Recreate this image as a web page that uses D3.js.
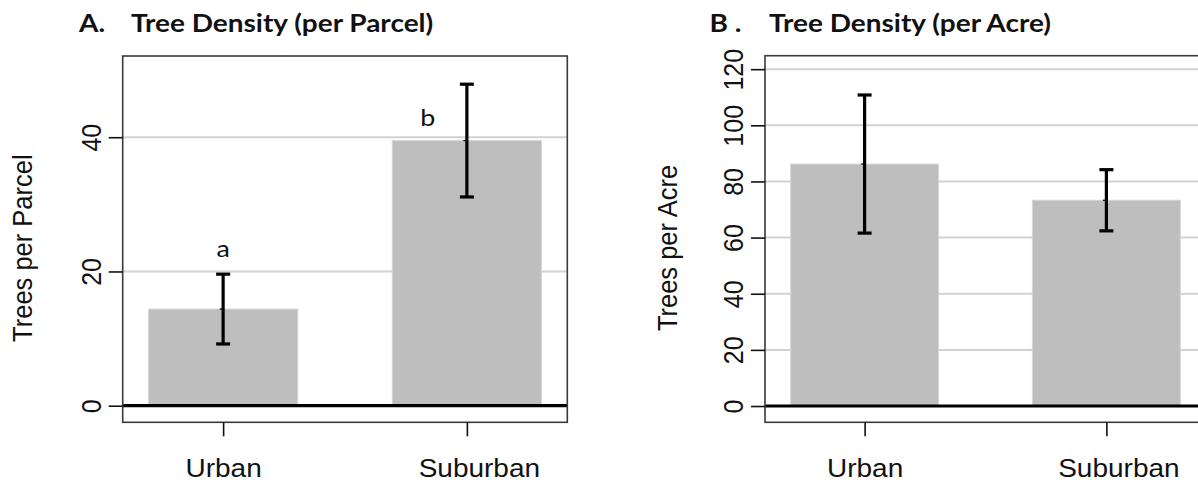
<!DOCTYPE html>
<html>
<head>
<meta charset="utf-8">
<script src="https://cdn.jsdelivr.net/npm/d3@7"></script>
<style>
  html, body { margin: 0; padding: 0; background: #fff; }
  svg { display: block; }
  .axis-text { font-family: "Liberation Sans", Arial, sans-serif; font-size: 25px; fill: #111; }
  .axis-title { font-family: "Liberation Sans", Arial, sans-serif; font-size: 25.5px; fill: #111; }
  .title-text { font-family: Lato, "Open Sans", sans-serif; font-weight: bold; font-size: 25px; fill: #111; }
  .letter-text { font-family: Lato, "Open Sans", sans-serif; font-size: 24px; fill: #111; }
</style>
</head>
<body>
<svg id="chart" width="1198" height="483"></svg>
<script>
// Land-use categories shared by both panels
const categories = ["Urban", "Suburban"];

// Panel A: trees per parcel (mean and error half-width)
const parcelMeans = [14.4, 39.5];
const parcelErrors = [5.2, 8.4];
const parcelTicks = [0, 20, 40];
const parcelLetters = ["a", "b"];

// Panel B: trees per acre (mean and error half-width)
const acreMeans = [86.2, 73.3];
const acreErrors = [24.6, 10.9];
const acreTicks = [0, 20, 40, 60, 80, 100, 120];

// text is set slightly wide horizontally
const WIDE = 1.12;
// horizontal nudge of each category label relative to its tick (px)
const labelNudge = [0, 12];

const svg = d3.select("#chart");

// Layout of each panel
const panels = [
  {
    tag: "A.", title: "Tree Density (per Parcel)", tagX: 79, titleX: 131,
    yLabel: "Trees per Parcel", yLabelX: 32,
    box: { left: 122.7, right: 567.3, top: 56, bottom: 422.3 },
    yDomain: [-2.47, 52.1],
    means: parcelMeans, errors: parcelErrors, ticks: parcelTicks,
    letters: parcelLetters,
    // letter placement: horizontal offset from bar centre (px) and height in data units
    letterLayout: [{ dx: 0, y: 22.2 }, { dx: -39, y: 41.6 }]
  },
  {
    tag: "B .", title: "Tree Density (per Acre)", tagX: 709.6, titleX: 769,
    yLabel: "Trees per Acre", yLabelX: 677,
    box: { left: 765, right: 1206, top: 55.7, bottom: 422.3 },
    yDomain: [-5.8, 124.8],
    means: acreMeans, errors: acreErrors, ticks: acreTicks,
    letters: null, letterLayout: null
  }
];

panels.forEach(p => {
  const g = svg.append("g");
  const b = p.box;

  const x = d3.scalePoint().domain(categories).range([b.left, b.right]).padding(0.412);
  const barW = x.step() * 0.612;
  const y = d3.scaleLinear().domain(p.yDomain).range([b.bottom, b.top]);

  // horizontal grid lines
  g.append("g").selectAll("line")
    .data(p.ticks.filter(t => t !== 0))
    .join("line")
    .attr("x1", b.left).attr("x2", b.right)
    .attr("y1", d => y(d)).attr("y2", d => y(d))
    .attr("stroke", "#d2d2d2").attr("stroke-width", 2);

  // bars
  g.append("g").selectAll("rect")
    .data(categories)
    .join("rect")
    .attr("x", d => x(d) - barW / 2)
    .attr("width", barW)
    .attr("y", (d, i) => y(p.means[i]))
    .attr("height", (d, i) => y(0) - y(p.means[i]))
    .attr("fill", "#bebebe")
    .attr("stroke", "#d6d6d6").attr("stroke-width", 1);

  // zero baseline
  g.append("line")
    .attr("x1", b.left).attr("x2", b.right)
    .attr("y1", y(0)).attr("y2", y(0))
    .attr("stroke", "#000").attr("stroke-width", 3.2);

  // plot frame
  g.append("rect")
    .attr("x", b.left).attr("y", b.top)
    .attr("width", b.right - b.left).attr("height", b.bottom - b.top)
    .attr("fill", "none").attr("stroke", "#3a3a3a").attr("stroke-width", 1.6);

  // error bars
  const eb = g.append("g").attr("stroke", "#000").attr("stroke-width", 3.2);
  categories.forEach((c, i) => {
    const cx = x(c);
    const lo = p.means[i] - p.errors[i], hi = p.means[i] + p.errors[i];
    eb.append("line").attr("x1", cx).attr("x2", cx).attr("y1", y(lo)).attr("y2", y(hi));
    eb.append("line").attr("x1", cx - 7).attr("x2", cx + 7).attr("y1", y(lo)).attr("y2", y(lo));
    eb.append("line").attr("x1", cx - 7).attr("x2", cx + 7).attr("y1", y(hi)).attr("y2", y(hi));
    eb.append("line").attr("x1", cx - 3.5).attr("x2", cx).attr("y1", y(p.means[i])).attr("y2", y(p.means[i]))
      .attr("stroke-width", 1.2);
  });

  // y axis ticks and rotated labels
  const yAxis = d3.axisLeft(y).tickValues(p.ticks).tickSize(14).tickPadding(0).tickFormat(d3.format("d"));
  const ya = g.append("g").attr("transform", `translate(${b.left},0)`).call(yAxis);
  ya.select(".domain").remove();
  ya.selectAll(".tick line").attr("stroke", "#111").attr("stroke-width", 1.6);
  ya.selectAll(".tick text")
    .attr("class", "axis-text")
    .attr("x", null).attr("dy", null)
    .attr("text-anchor", "middle")
    .attr("transform", `translate(-22,0) scale(${WIDE},1) rotate(-90)`)
    .attr("y", 0);

  // x axis ticks and labels
  const xAxis = d3.axisBottom(x).tickSize(14).tickPadding(0);
  const xa = g.append("g").attr("transform", `translate(0,${b.bottom})`).call(xAxis);
  xa.select(".domain").remove();
  xa.selectAll(".tick line").attr("stroke", "#111").attr("stroke-width", 1.6);
  xa.selectAll(".tick text")
    .attr("class", "axis-text")
    .attr("dy", null)
    .attr("y", 54.5)
    .attr("transform", (d, i) => `translate(${labelNudge[i]},0) scale(${WIDE},1)`);

  // axis title
  g.append("text")
    .attr("class", "axis-title")
    .attr("text-anchor", "middle")
    .attr("transform", `translate(${p.yLabelX},${(b.top + b.bottom) / 2 + 9}) scale(${WIDE},1) rotate(-90)`)
    .text(p.yLabel);

  // panel title
  g.append("text").attr("class", "title-text")
    .attr("transform", `translate(${p.tagX},31.7) scale(${WIDE},1)`).text(p.tag);
  g.append("text").attr("class", "title-text")
    .attr("transform", `translate(${p.titleX},31.7) scale(${WIDE},1)`).text(p.title);

  // significance letters
  if (p.letters) {
    g.append("g").selectAll("text")
      .data(p.letters)
      .join("text")
      .attr("class", "letter-text")
      .attr("text-anchor", "middle")
      .attr("transform", (d, i) =>
        `translate(${x(categories[i]) + p.letterLayout[i].dx},${y(p.letterLayout[i].y)}) scale(${WIDE},1)`)
      .text(d => d);
  }
});
</script>
</body>
</html>
